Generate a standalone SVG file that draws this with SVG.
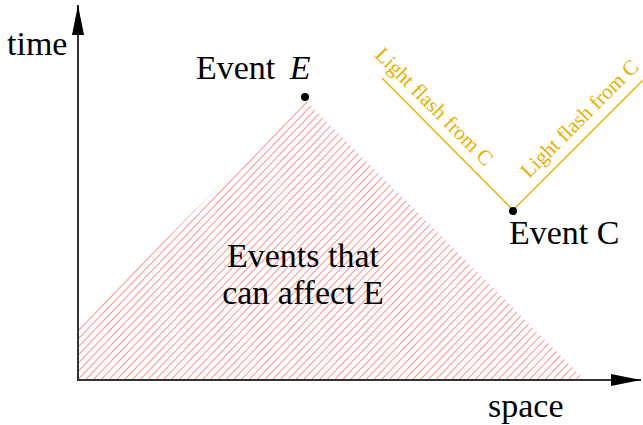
<svg xmlns="http://www.w3.org/2000/svg" width="643" height="425" viewBox="0 0 643 425">
<style>
.lbl{font-family:"Liberation Serif","Times New Roman",serif;font-size:34px;fill:#000}
.gold{font-family:"Liberation Serif","Times New Roman",serif;font-size:21px;fill:#e8b000}
.axis{stroke:#333;stroke-width:2;fill:none}
.flash{stroke:#e8b000;stroke-width:1.3;fill:none}
</style>
<defs>
<pattern id="hatch" patternUnits="userSpaceOnUse" width="5.6" height="10" patternTransform="rotate(44)">
<line x1="0" y1="-2" x2="0" y2="12" stroke="#ff6e6e" stroke-width="1.5"/>
</pattern>
<marker id="arr" viewBox="0 0 30 12" refX="30" refY="6" markerWidth="30" markerHeight="12" markerUnits="userSpaceOnUse" orient="auto">
<path d="M0,0 L30,6 L0,12 Z" fill="#000"/>
</marker>
</defs>
<g id="region">
<polygon points="78,380 78,327 305,100 585,380" fill="url(#hatch)"/>
</g>
<g id="connectors">
<line class="axis" x1="78" y1="381" x2="78" y2="5" marker-end="url(#arr)"/>
<line class="axis" x1="77" y1="380" x2="641" y2="380" marker-end="url(#arr)"/>
<line class="flash" x1="382" y1="78" x2="513" y2="210"/>
<line class="flash" x1="513" y1="210" x2="643" y2="80"/>
</g>
<g id="axis-labels">
<text class="lbl" x="7" y="55">time</text>
<text class="lbl" x="488" y="417">space</text>
</g>
<g id="eventE">
<circle cx="305" cy="97" r="4"/>
<text class="lbl" x="196" y="79">Event <tspan font-style="italic" dx="6">E</tspan></text>
</g>
<g id="eventC">
<circle cx="513" cy="211" r="4"/>
<text class="lbl" x="509" y="244">Event C</text>
</g>
<g id="region-label">
<text class="lbl" x="303" y="267" text-anchor="middle">Events that</text>
<text class="lbl" x="303" y="304" text-anchor="middle">can affect E</text>
</g>
<g id="flash-labels">
<text class="gold" x="374" y="56" transform="rotate(45 374 56)">Light flash from C</text>
<text class="gold" x="529" y="179" transform="rotate(-45 529 179)">Light flash from C</text>
</g>
</svg>
